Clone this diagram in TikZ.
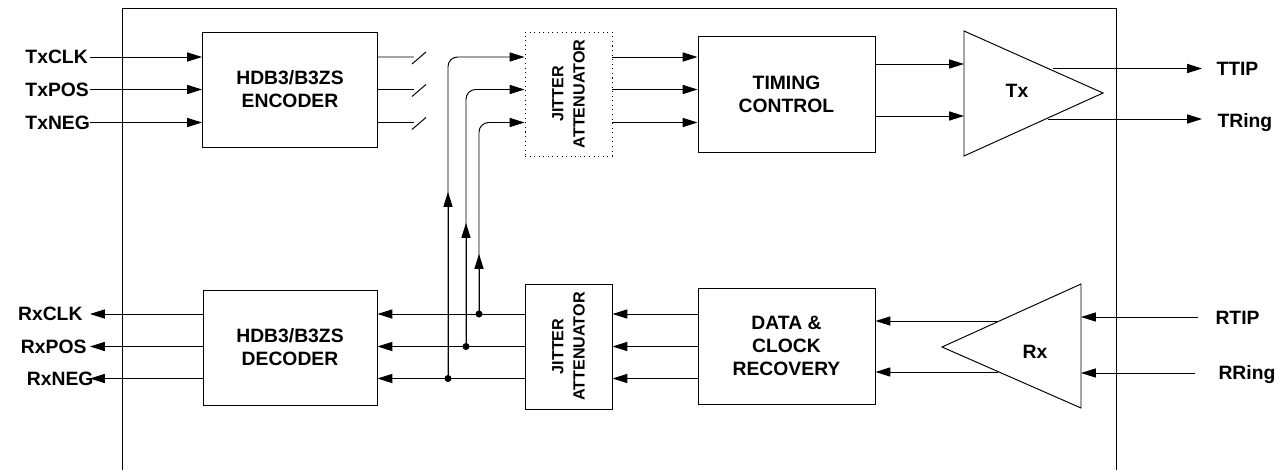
\documentclass[tikz,border=0pt]{standalone}
\usepackage{fontspec}
\setmainfont{Liberation Sans}
\usetikzlibrary{arrows.meta}

\tikzset{
  blk/.style={draw,rectangle,inner sep=0pt,align=center,font=\bfseries\fontsize{11}{13}\selectfont},
  pin/.style={inner sep=0pt,align=center,font=\bfseries\fontsize{11}{13}\selectfont},
  vtxt/.style={inner sep=0pt,align=center,rotate=90,font=\bfseries\fontsize{9.2}{12}\selectfont},
  sig/.style={-{Triangle[length=8.5pt,width=5.2pt]}},
  dot/.style={circle,fill,inner sep=0pt,minimum size=4pt}
}

\begin{document}
\begin{tikzpicture}[x=0.02cm,y=-0.02cm,line width=0.55pt]
\useasboundingbox (0,0) rectangle (1284,470);
% chip outline
\draw (122,470) -- (122,8) -- (1116,8) -- (1116,470);

% transmit side
\node (TxCLK) [pin,anchor=west] at (25,57) {TxCLK};
\node (TxPOS) [pin,anchor=west] at (25,89.5) {TxPOS};
\node (TxNEG) [pin,anchor=west] at (25,122.5) {TxNEG};
\coordinate (lft) at (90,0);
\coordinate (rgt) at (1202,0);

\node (enc) [blk,minimum width=3.5cm,minimum height=2.3cm] at (290,89.5) {HDB3/B3ZS\\ENCODER};
\node (jat) [blk,dash pattern=on 0.6pt off 2pt,minimum width=1.74cm,minimum height=2.48cm] at (568.5,94) {};
\node (jattxt) [vtxt] at (jat) {JITTER\\ATTENUATOR};
\node (tim) [blk,minimum width=3.54cm,minimum height=2.32cm] at (786.5,94) {TIMING\\CONTROL};

\draw [sig] (lft |- TxCLK) -- (enc.west |- TxCLK);
\draw [sig] (lft |- TxPOS) -- (enc.west |- TxPOS);
\draw [sig] (lft |- TxNEG) -- (enc.west |- TxNEG);

% encoder outputs, broken
\draw (enc.east |- TxCLK) -- ++(36,0) ++(-2,7) -- ++(14,-12);
\draw (enc.east |- TxPOS) -- ++(36,0) ++(-2,7) -- ++(14,-12);
\draw (enc.east |- TxNEG) -- ++(36,0) ++(-2,7) -- ++(14,-12);

\draw [sig] (jat.east |- TxCLK) -- (tim.west |- TxCLK);
\draw [sig] (jat.east |- TxPOS) -- (tim.west |- TxPOS);
\draw [sig] (jat.east |- TxNEG) -- (tim.west |- TxNEG);

% Tx driver
\coordinate (txt) at (964,31);
\coordinate (txb) at (964,156);
\coordinate (txp) at (1103,93);
\draw (txt) -- (txp) -- (txb) -- cycle;
\node (tx) [pin] at (1017,91) {Tx};
\draw [sig] (tim.east |- 0,64) -- (txt |- 0,64);
\draw [sig] (tim.east |- 0,116) -- (txt |- 0,116);

\node (TTIP) [pin,anchor=west] at (1216,69) {TTIP};
\node (TRing) [pin,anchor=west] at (1217,123) {TRing};
\coordinate (txo1) at (1053,68.5);
\coordinate (txo2) at (1048,119);
\draw [sig] (txo1) -- (rgt |- txo1);
\draw [sig] (txo2) -- (rgt |- txo2);

% receive side
\node (RxCLK) [pin,anchor=east] at (83,314) {RxCLK};
\node (RxPOS) [pin,anchor=east] at (87,346.5) {RxPOS};
\node (RxNEG) [pin,anchor=east] at (94,378.5) {RxNEG};

\node (dec) [blk,minimum width=3.48cm,minimum height=2.3cm] at (290,347.5) {HDB3/B3ZS\\DECODER};
\node (jab) [blk,minimum width=1.74cm,minimum height=2.5cm] at (568.5,346.5) {};
\node (jabtxt) [vtxt] at (jab) {JITTER\\ATTENUATOR};
\node (dcr) [blk,minimum width=3.54cm,minimum height=2.32cm] at (786.5,346) {DATA \&\\CLOCK\\RECOVERY};

% Rx receiver
\coordinate (rxt) at (1081,284);
\coordinate (rxb) at (1081,408);
\coordinate (rxp) at (942,347);
\draw (rxt) -- (rxp) -- (rxb) -- cycle;
\node (rx) [pin] at (1035,352) {Rx};

\node (RTIP) [pin,anchor=west] at (1215,318) {RTIP};
\node (RRing) [pin,anchor=west] at (1218,375) {RRing};
\draw [sig] (RTIP.west) ++(-17,-1) -- (rxt |- 0,317);
\draw [sig] (RRing.west) ++(-23,-2) -- (rxt |- 0,373);

\coordinate (rxo1) at (997,321);
\coordinate (rxo2) at (998,372);
\draw [sig] (rxo1) -- (dcr.east |- rxo1);
\draw [sig] (rxo2) -- (dcr.east |- rxo2);

\draw [sig] (dcr.west |- RxCLK) -- (jab.east |- RxCLK);
\draw [sig] (dcr.west |- RxPOS) -- (jab.east |- RxPOS);
\draw [sig] (dcr.west |- RxNEG) -- (jab.east |- RxNEG);

\draw [sig] (jab.west |- RxCLK) -- (dec.east |- RxCLK);
\draw [sig] (jab.west |- RxPOS) -- (dec.east |- RxPOS);
\draw [sig] (jab.west |- RxNEG) -- (dec.east |- RxNEG);

\draw [sig] (dec.west |- RxCLK) -- (lft |- RxCLK);
\draw [sig] (dec.west |- RxPOS) -- (lft |- RxPOS);
\draw [sig] (dec.west |- RxNEG) -- (lft |- RxNEG);

% loop back to the transmit jitter attenuator
\coordinate (c1) at (448,0);
\coordinate (c2) at (466,0);
\coordinate (c3) at (479,0);
\node (j1) [dot] at (c1 |- RxNEG) {};
\node (j2) [dot] at (c2 |- RxPOS) {};
\node (j3) [dot] at (c3 |- RxCLK) {};
\draw [sig,rounded corners=5.5pt] (j1.center) -- (c1 |- TxCLK) -- (jat.west |- TxCLK);
\draw [sig,rounded corners=5.5pt] (j2.center) -- (c2 |- TxPOS) -- (jat.west |- TxPOS);
\draw [sig,rounded corners=5.5pt] (j3.center) -- (c3 |- TxNEG) -- (jat.west |- TxNEG);
\draw [sig] (j1.center) -- ++(0,-186.5);
\draw [sig] (j2.center) -- ++(0,-123.5);
\draw [sig] (j3.center) -- ++(0,-60);
\end{tikzpicture}
\end{document}
